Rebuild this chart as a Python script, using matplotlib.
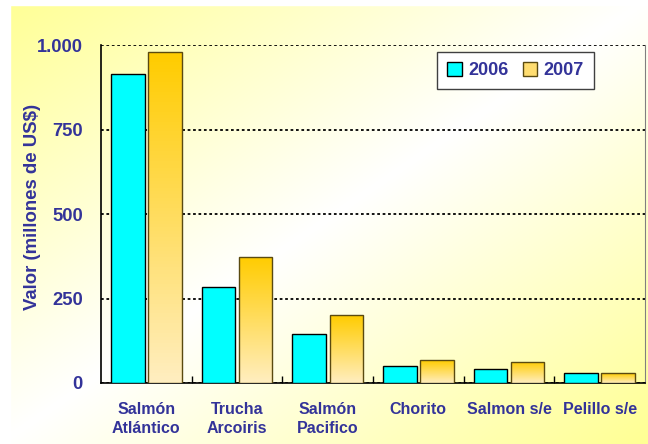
import numpy as np
import matplotlib
matplotlib.use('Agg')
from matplotlib import pyplot as plt
from matplotlib.patches import Patch
from matplotlib.ticker import FuncFormatter

categories = ['Salmón\nAtlántico', 'Trucha\nArcoiris', 'Salmón\nPacifico', 'Chorito', 'Salmon s/e', 'Pelillo s/e']
valores_2006 = [914, 285, 145, 50, 40, 30]
valores_2007 = [979, 373, 201, 68, 63, 29]
yticks = [0, 250, 500, 750, 1000]

plt.rcParams['font.family'] = ['Liberation Sans', 'DejaVu Sans']
plt.rcParams['font.weight'] = 'bold'
txt = '#333399'

fig = plt.figure(figsize=(6.48, 4.44), dpi=100)

# background: yellow in top-left and bottom-right corners, white across the other diagonal
bg = fig.add_axes([0, 0, 1, 1], zorder=-10)
u, v = np.meshgrid(np.linspace(0, 1, 300), np.linspace(0, 1, 200))
t = np.abs(u + v - 1)
img = np.ones((200, 300, 3))
img[:, :, 2] = 1 - 0.42 * t
bg.imshow(img, extent=[0, 1, 0, 1], aspect='auto', origin='upper')
bg.axhspan(0.989, 1, color='white')
bg.axvspan(0, 0.015, color='white')
bg.set_xlim(0, 1)
bg.set_ylim(0, 1)
bg.axis('off')

ax = fig.add_axes([0.1559, 0.1374, 0.8395, 0.7612])
ax.patch.set_alpha(0)

x = np.arange(len(categories))
w = 0.37
ax.bar(x - 0.205, valores_2006, w, color='#00FFFF', edgecolor='black', linewidth=1, zorder=3)
bars07 = ax.bar(x + 0.205, valores_2007, w, color='none', edgecolor='#5a4a10', linewidth=1, zorder=4)

grad = np.zeros((100, 1, 3))
g = np.linspace(0, 1, 100)[:, None]
grad[:, :, 0] = 1.0
grad[:, :, 1] = (0xCC + (0xEE - 0xCC) * g) / 255
grad[:, :, 2] = (0x00 + (0xC0 - 0x00) * g) / 255
for b in bars07:
    im = ax.imshow(grad, extent=[b.get_x(), b.get_x() + b.get_width(), 0, b.get_height()],
                   aspect='auto', origin='upper', zorder=3.5)
    im.set_clip_path(b)

ax.set_xlim(-0.5, len(categories) - 0.5)
ax.set_ylim(0, 1000)
ax.set_yticks(yticks)
ax.yaxis.set_major_formatter(FuncFormatter(lambda val, p: f'{int(val):,}'.replace(',', '.')))
ax.grid(axis='y', color='black', linestyle=(0, (1.5, 1.5)), linewidth=1.3, zorder=1)
ax.tick_params(axis='y', length=0, pad=13, labelsize=13.2, labelcolor=txt)

ax.set_xticks(x)
ax.set_xticklabels(categories, linespacing=1.3)
ax.set_xticks(x[:-1] + 0.5, minor=True)
ax.tick_params(axis='x', which='major', length=0, pad=14, labelsize=11.5, labelcolor=txt)
ax.tick_params(axis='x', which='minor', direction='in', length=5, width=1)

ax.spines['top'].set_visible(False)
ax.spines['right'].set_color('#808080')
ax.spines['left'].set_linewidth(1.2)
ax.spines['bottom'].set_linewidth(1.2)

ax.set_ylabel('Valor (millones de US$)', fontsize=13.4, color=txt, fontweight='bold')
ax.yaxis.set_label_coords(-0.11, 0.52)

handles = [Patch(facecolor='#00FFFF', edgecolor='black', label='2006'),
           Patch(facecolor='#FFDD70', edgecolor='#5a4a10', label='2007')]
leg = ax.legend(handles=handles, ncol=2, loc='upper left', bbox_to_anchor=(0.618, 0.979),
                fontsize=13, frameon=True, fancybox=False, handlelength=0.8, handleheight=0.8,
                handletextpad=0.35, columnspacing=0.8, borderpad=0.55, borderaxespad=0, framealpha=1)
leg.get_frame().set_edgecolor('#404040')
leg.get_frame().set_linewidth(1)
for t_ in leg.get_texts():
    t_.set_color(txt)

fig.savefig('out.png', dpi=100)
